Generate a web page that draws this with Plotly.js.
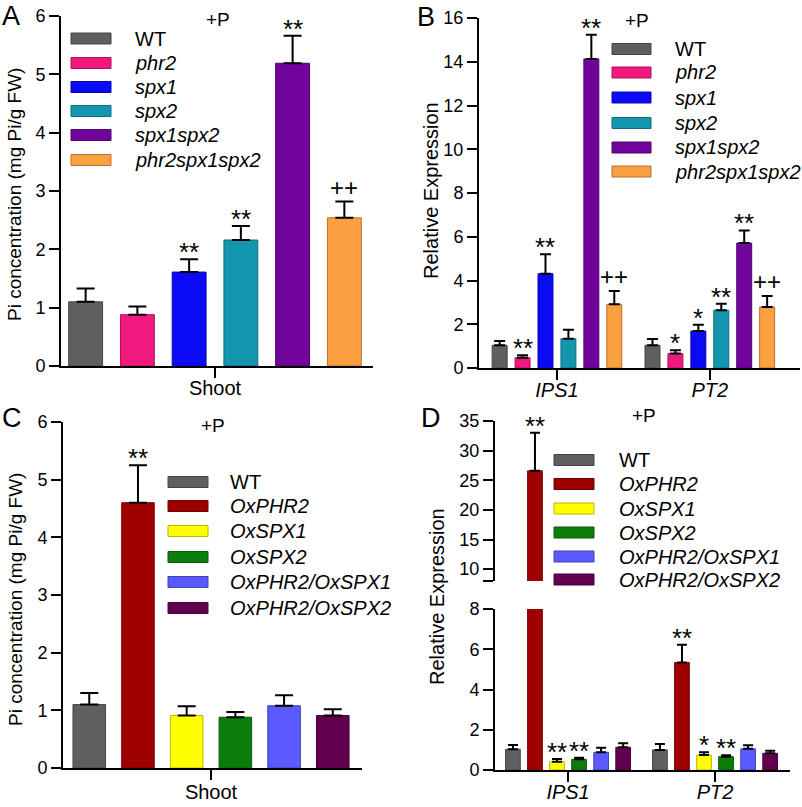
<!DOCTYPE html>
<html>
<head>
<meta charset="utf-8">
<script src="https://cdn.plot.ly/plotly-3.0.1.min.js"></script>
<style>html,body{margin:0;padding:0;background:#fff;}#chart{width:802px;height:807px;}</style>
</head>
<body>
<div id="chart"></div>
<script>
// ---------- DATA ----------
// Panel A / B genotypes
const genoAB = ['WT', 'phr2', 'spx1', 'spx2', 'spx1spx2', 'phr2spx1spx2'];
const colorsAB = ['#5f5f5f', '#f0197d', '#0a0af5', '#1596b0', '#71049a', '#fba040'];
// Panel A: shoot Pi concentration
const catA = ['Shoot'];
const meanA = [1.10, 0.88, 1.61, 2.16, 5.19, 2.54];
const errA = [0.23, 0.14, 0.22, 0.24, 0.47, 0.28];
const sigA = ['', '', '**', '**', '**', '++'];
// Panel B: relative expression
const genesB = ['IPS1', 'PT2'];
const meanB = [[1.04, 1.04], [0.47, 0.66], [4.31, 1.69], [1.34, 2.64], [14.13, 5.71], [2.91, 2.79]];
const errB = [[0.19, 0.29], [0.11, 0.15], [0.89, 0.29], [0.41, 0.30], [1.11, 0.58], [0.61, 0.50]];
const sigB = [['', ''], ['**', '*'], ['**', '*'], ['', '**'], ['**', '**'], ['++', '++']];
// Panel C / D genotypes
const genoCD = ['WT', 'OxPHR2', 'OxSPX1', 'OxSPX2', 'OxPHR2/OxSPX1', 'OxPHR2/OxSPX2'];
const colorsCD = ['#5f5f5f', '#9e0000', '#ffff00', '#0b7d0b', '#5a5aff', '#61004f'];
// Panel C: shoot Pi concentration
const catC = ['Shoot'];
const meanC = [1.10, 4.60, 0.91, 0.88, 1.08, 0.91];
const errC = [0.20, 0.65, 0.16, 0.09, 0.18, 0.11];
const sigC = ['', '**', '', '', '', ''];
// Panel D: relative expression (broken axis)
const genesD = ['IPS1', 'PT2'];
const meanD = [[1.03, 1.00], [26.6, 5.34], [0.41, 0.75], [0.53, 0.66], [0.88, 1.05], [1.13, 0.83]];
const errD = [[0.21, 0.29], [6.4, 0.88], [0.14, 0.13], [0.08, 0.07], [0.23, 0.18], [0.20, 0.13]];
const sigD = [['', ''], ['**', '**'], ['**', '*'], ['**', '**'], ['', ''], ['', '']];
const dBreak = 8;
const yTicksDTop = [8, 10, 15, 20, 25, 30, 35];
const yTickTextDTop = ['', '10', '15', '20', '25', '30', '35'];

// ---------- STYLE / LAYOUT HELPERS ----------
const W = 802, H = 807;
const FONT = '"Liberation Sans", Arial, Helvetica, sans-serif';
const px = x => x / W;
const py = y => 1 - y / H;
function darken(hex) {
  const n = parseInt(hex.slice(1), 16);
  const r = Math.round(((n >> 16) & 255) * 0.72), g = Math.round(((n >> 8) & 255) * 0.72), b = Math.round((n & 255) * 0.72);
  return `rgb(${r},${g},${b})`;
}
const fmtName = n => n === 'WT' ? 'WT' : '<i>' + n + '</i>';

const traces = [];
const annotations = [];
const shapes = [];

function addGroup(names, colors, cats, meansFn, errsFn, sigFn, xa, ya, slot, w, errW, yaFn) {
  const n = names.length;
  names.forEach((nm, i) => {
    const center = (i - (n - 1) / 2) * slot;
    const m = meansFn(i), e = errsFn(i);
    traces.push({
      type: 'bar', name: nm, x: cats, y: m,
      width: w, offset: center - w / 2,
      marker: {color: colors[i], line: {color: darken(colors[i]), width: 1}},
      error_y: {type: 'data', symmetric: false, array: e, arrayminus: cats.map(() => 0), color: '#000', thickness: 2, width: errW},
      xaxis: xa, yaxis: ya, showlegend: false, hoverinfo: 'skip'
    });
    if (sigFn) {
      const s = sigFn(i);
      cats.forEach((c, j) => {
        if (!s[j]) return;
        const top = m[j] + e[j];
        const ref = yaFn ? yaFn(top) : {x: xa, y: ya};
        const star = s[j][0] === '*';
        annotations.push({
          xref: ref.x, yref: ref.y, x: j + center, y: top, text: s[j], showarrow: false,
          xanchor: 'center', yanchor: 'bottom', yshift: star ? -10 : -1,
          font: {family: FONT, size: star ? 26 : 24, color: '#000'}
        });
      });
    }
  });
}

function addLegend(names, colors, x0, x1, ys, h, tx) {
  names.forEach((nm, i) => {
    shapes.push({type: 'rect', xref: 'paper', yref: 'paper', x0: px(x0), x1: px(x1), y0: py(ys[i] + h / 2), y1: py(ys[i] - h / 2),
      fillcolor: colors[i], line: {color: darken(colors[i]), width: 1}});
    annotations.push({xref: 'paper', yref: 'paper', x: px(tx), y: py(ys[i]), text: fmtName(nm), showarrow: false,
      xanchor: 'left', yanchor: 'middle', font: {family: FONT, size: 20, color: '#000'}});
  });
}

function txt(x, y, t, size, angle) {
  annotations.push({xref: 'paper', yref: 'paper', x: px(x), y: py(y), text: t, showarrow: false, textangle: angle || 0,
    xanchor: 'center', yanchor: 'middle', font: {family: FONT, size: size, color: '#000'}});
}

// Panel A
addGroup(genoAB, colorsAB, catA, i => [meanA[i]], i => [errA[i]], i => [sigA[i]], 'x', 'y', 0.168, 0.110, 9);
// Panel B
addGroup(genoAB, colorsAB, genesB, i => meanB[i], i => errB[i], i => sigB[i], 'x2', 'y2', 0.150, 0.098, 5.5);
// Panel C
addGroup(genoCD, colorsCD, catC, i => [meanC[i]], i => [errC[i]], i => [sigC[i]], 'x3', 'y3', 0.1645, 0.110, 9);
// Panel D bottom + top (broken axis)
addGroup(genoCD, colorsCD, genesD, i => meanD[i], i => errD[i], i => sigD[i], 'x4', 'y4', 0.150, 0.100, 5,
  top => top > dBreak ? {x: 'x5', y: 'y5'} : {x: 'x4', y: 'y4'});
addGroup(genoCD, colorsCD, genesD, i => meanD[i], i => errD[i], null, 'x5', 'y5', 0.150, 0.100, 5);

// Legends
addLegend(genoAB, colorsAB, 71, 111, [38.5, 63, 87, 111, 135, 160], 11, 133);
addLegend(genoAB, colorsAB, 612, 651, [49, 72.5, 97.5, 123, 147.5, 171.5], 11, 673);
addLegend(genoCD, colorsCD, 168, 208, [482, 506, 531, 557, 582, 608], 11, 228);
addLegend(genoCD, colorsCD, 554, 594, [460, 484, 508.5, 532.5, 556.5, 579.5], 11, 617);

// Panel letters, +P, y titles
txt(11, 16, 'A', 27); txt(426, 17, 'B', 27); txt(12, 418, 'C', 27); txt(431, 418, 'D', 27);
txt(218, 19, '+P', 19); txt(637, 20, '+P', 19); txt(213, 425, '+P', 19); txt(644, 415, '+P', 19);
txt(14, 195, 'Pi concentration (mg Pi/g FW)', 19, -90);
txt(431, 191, 'Relative Expression', 20, -90);
txt(15, 600, 'Pi concentration (mg Pi/g FW)', 19, -90);
txt(437, 597, 'Relative Expression', 20, -90);

const axBase = {showline: true, linecolor: '#000', linewidth: 2, ticks: 'outside', ticklen: 10, tickwidth: 2, tickcolor: '#000',
  showgrid: false, zeroline: false, fixedrange: true, tickfont: {family: FONT, size: 18, color: '#000'}};
const xCat = Object.assign({}, axBase, {type: 'category', ticklabelstandoff: -7, tickfont: {family: FONT, size: 20, color: '#000'}});
const italicTicks = arr => arr.map(g => '<i>' + g + '</i>');

const layout = {
  width: W, height: H, margin: {l: 0, r: 0, t: 0, b: 0},
  paper_bgcolor: '#fff', plot_bgcolor: 'rgba(0,0,0,0)', barmode: 'overlay', showlegend: false,
  font: {family: FONT, color: '#000'},
  xaxis: Object.assign({}, xCat, {domain: [px(61), px(373)], range: [-0.5, 0.513], anchor: 'y'}),
  yaxis: Object.assign({}, axBase, {domain: [py(366), py(16)], range: [0, 6], dtick: 1, anchor: 'x'}),
  xaxis2: Object.assign({}, xCat, {domain: [px(479), px(800)], range: [-0.51, 1.59], anchor: 'y2',
    tickvals: genesB, ticktext: italicTicks(genesB)}),
  yaxis2: Object.assign({}, axBase, {domain: [py(368), py(18)], range: [0, 16], dtick: 2, anchor: 'x2'}),
  xaxis3: Object.assign({}, xCat, {domain: [px(63), px(362)], range: [-0.5, 0.51], anchor: 'y3', ticklabelstandoff: -5}),
  yaxis3: Object.assign({}, axBase, {domain: [py(768), py(422)], range: [0, 6], dtick: 1, anchor: 'x3'}),
  xaxis4: Object.assign({}, xCat, {domain: [px(495), px(790)], range: [-0.497, 1.51], anchor: 'y4',
    tickvals: genesD, ticktext: italicTicks(genesD)}),
  yaxis4: Object.assign({}, axBase, {domain: [py(770), py(609)], range: [0, dBreak], dtick: 2, anchor: 'x4'}),
  xaxis5: Object.assign({}, xCat, {domain: [px(495), px(790)], range: [-0.497, 1.51], anchor: 'y5', visible: false}),
  yaxis5: Object.assign({}, axBase, {domain: [py(581), py(421)], range: [dBreak, 35], anchor: 'x5',
    tickmode: 'array', tickvals: yTicksDTop, ticktext: yTickTextDTop}),
  annotations: annotations, shapes: shapes
};

Plotly.newPlot('chart', traces, layout, {staticPlot: true, displayModeBar: false});
</script>
</body>
</html>
